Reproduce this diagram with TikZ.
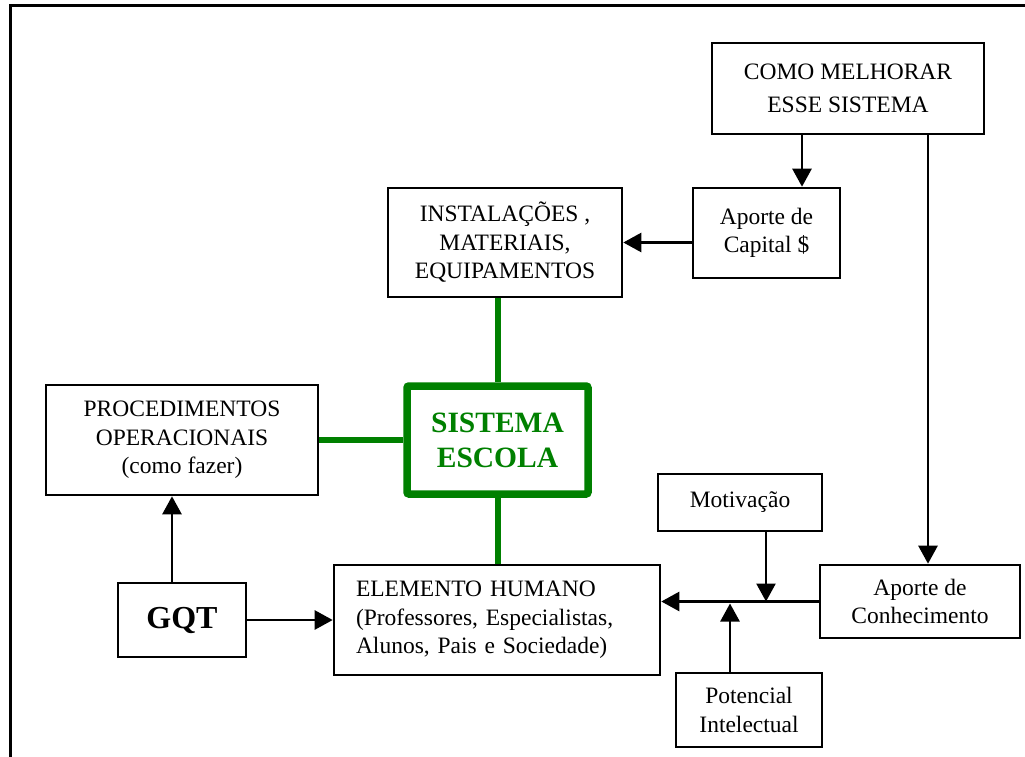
\documentclass[tikz,border=0pt]{standalone}
\usepackage{fontspec}
\setmainfont{Liberation Serif}
\usetikzlibrary{arrows.meta}
\definecolor{schoolgreen}{RGB}{0,128,0}
\frenchspacing
\begin{document}
\begin{tikzpicture}[x=1pt,y=-1pt,
  box/.style={draw, line width=2.6pt, inner sep=0pt, align=center,
              font=\fontsize{23.5}{28.5}\selectfont},
  arr/.style={line width=2.6pt, -{Triangle[length=18pt,width=19pt]}},
  link/.style={draw=schoolgreen, line width=6pt},
]
\useasboundingbox (0,0) rectangle (1025,757);
% page frame (top and left edges)
\draw[line width=3pt] (1025,6) -- (10,6) -- (10,757);

% boxes
\node[box, minimum width=272pt, minimum height=91pt,
      font=\fontsize{23.5}{33}\selectfont] (como) at (848,88.5)
  {COMO MELHORAR\\ESSE SISTEMA};
\node[box, minimum width=147pt, minimum height=90pt] (capital) at (766.5,233)
  {Aporte de\\Capital \$};
\node[box, minimum width=234pt, minimum height=109pt] (inst) at (505,242.5)
  {INSTALAÇÕES ,\\MATERIAIS,\\EQUIPAMENTOS};
\node[box, draw=schoolgreen, line width=7.5pt, rounded corners=2pt,
      minimum width=181pt, minimum height=108pt, text=schoolgreen,
      font=\bfseries\fontsize{29.5}{35}\selectfont] (sis) at (497.5,440)
  {SISTEMA\\ESCOLA};
\node[box, minimum width=272pt, minimum height=110pt] (proc) at (182,440)
  {PROCEDIMENTOS\\OPERACIONAIS\\(como fazer)};
\node[box, minimum width=128pt, minimum height=74pt,
      font=\bfseries\fontsize{32}{38}\selectfont] (gqt) at (182,620) {GQT};
\node[box, minimum height=110pt, text width=282pt, inner xsep=22pt,
      align=left] (hum) at (497,620)
  {ELEMENTO HUMANO\\(Professores, Especialistas,\\Alunos, Pais e Sociedade)};
\node[box, minimum width=164pt, minimum height=57pt] (mot) at (740,502.5)
  {Motivação};
\node[box, minimum width=200pt, minimum height=73pt] (conh) at (920,601.5)
  {Aporte de\\Conhecimento};
\node[box, minimum width=146pt, minimum height=74pt] (pot) at (749,710)
  {Potencial\\Intelectual};

% x positions of the off-centre connectors
\coordinate (xa) at (802,0);
\coordinate (xb) at (928,0);
\coordinate (xq) at (172,0);
\coordinate (xm) at (766,0);
\coordinate (xp) at (730,0);

% green links to the central system
\draw[link] (inst.south -| sis.north) -- (sis.north);
\draw[link] (proc.east) -- (sis.west);
\draw[link] (sis.south) -- (sis.south |- hum.north);

% arrows
\draw[arr] (como.south -| xa) -- (capital.north -| xa);
\draw[arr] (como.south -| xb) -- (conh.north -| xb);
\draw[arr] (capital.west |- inst.east) -- (inst.east);
\draw[arr] (gqt.north -| xq) -- (proc.south -| xq);
\draw[arr] (gqt.east) -- (gqt.east -| hum.west);
\draw[arr] (conh.west) -- (conh.west -| hum.east);
\draw[arr] (mot.south -| xm) -- (xm |- conh.west);
\draw[arr, shorten >=2pt] (pot.north -| xp) -- (xp |- conh.west);
\end{tikzpicture}
\end{document}
